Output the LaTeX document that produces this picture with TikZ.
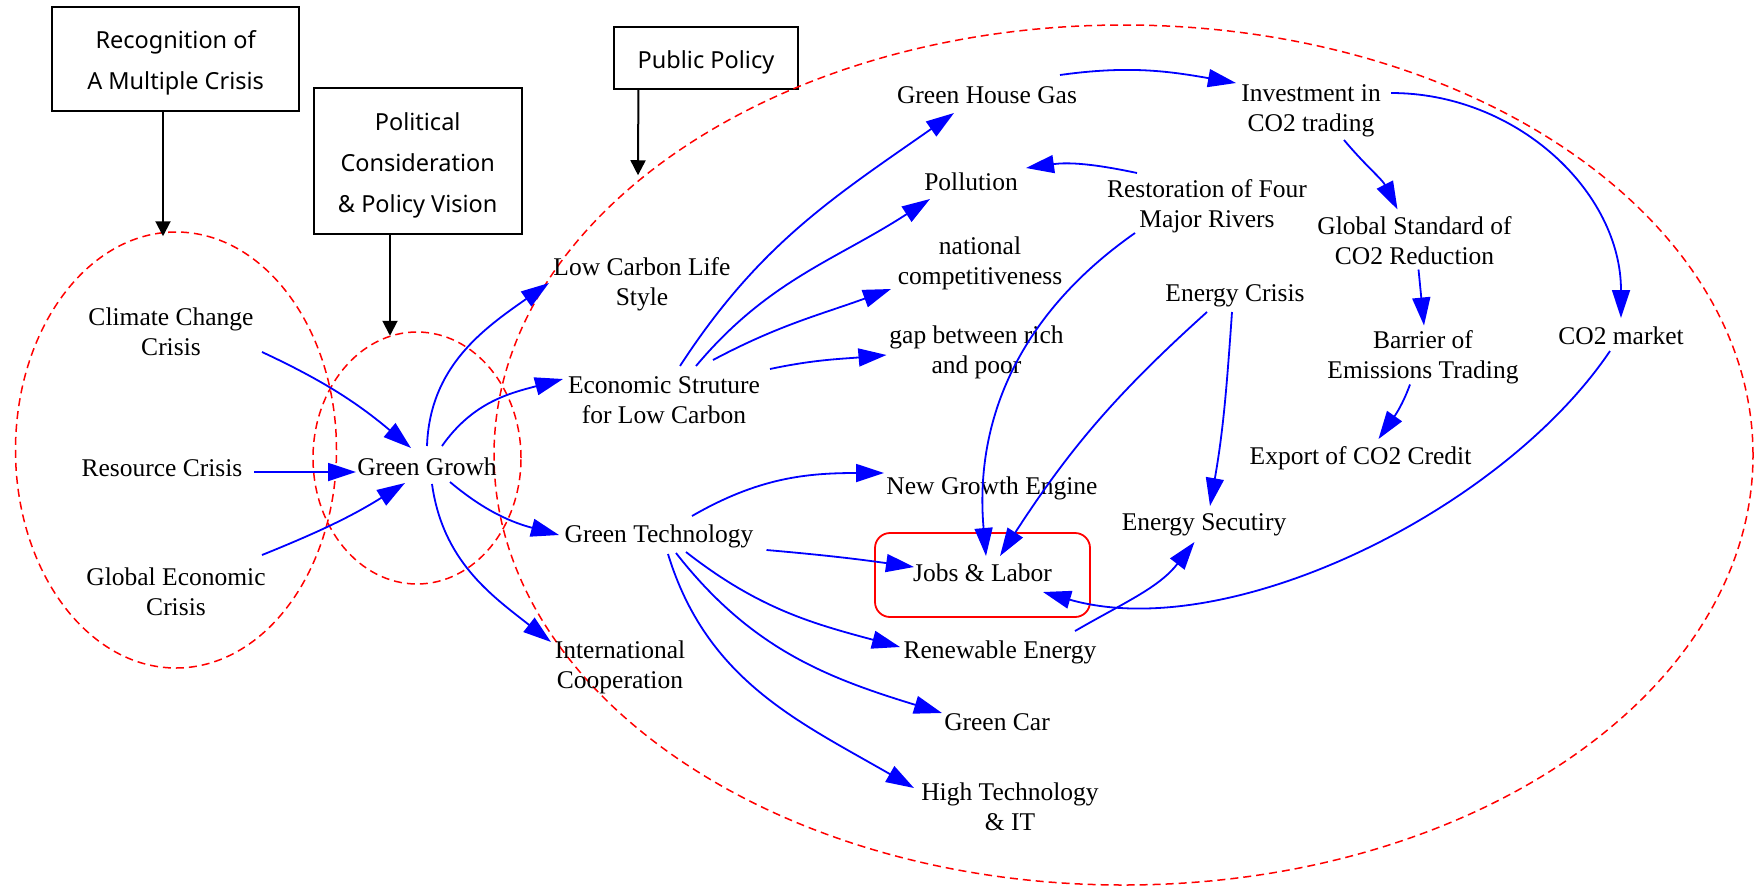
\documentclass[tikz,border=0pt]{standalone}
\usepackage{fontspec}
\setmainfont{Liberation Serif}
\newfontfamily\boxfont{Noto Sans}
\usetikzlibrary{arrows.meta,shapes.geometric,calc}
% one line of a label, set a little low inside its node
\newcommand\txtline[1]{\raisebox{-3pt}[\height][\depth]{#1}}
\newcommand\boxline[1]{\raisebox{-4pt}[\height][\depth]{#1}}

\begin{document}
\begin{tikzpicture}[x=1pt,y=1pt,
  lbl/.style={font=\fontsize{25.5}{30}\selectfont, align=center, inner sep=0pt},
  topbox/.style={draw=black, line width=1.8pt, font=\boxfont\fontsize{23.5}{41}\selectfont, align=center, inner sep=0pt},
  zone/.style={draw=red, line width=1.5pt, dash pattern=on 8pt off 5pt, ellipse, inner sep=0pt},
  focus/.style={draw=red, line width=1.8pt, rounded corners=15pt, font=\fontsize{25.5}{30}\selectfont, inner sep=0pt},
  link/.style={draw=blue, line width=1.8pt, -{Triangle[length=28pt,width=18pt]}},
  lead/.style={draw=black, line width=2pt, -{Triangle[length=15pt,width=15pt]}},
]
\useasboundingbox (0,0) rectangle (1755,-889);

% header boxes
\node[topbox, minimum width=246.5, minimum height=104] (recog) at (175.6,-58.7) {\boxline{Recognition of}\\\boxline{A Multiple Crisis}};
\node[topbox, minimum width=207.8, minimum height=146] (polit) at (417.7,-161.3) {\boxline{Political}\\\boxline{Consideration}\\\boxline{\& Policy Vision}};
\node[topbox, minimum width=184.4, minimum height=62.6] (public) at (706,-58) {\boxline{Public Policy}};

% dashed groupings
\node[zone, minimum width=321, minimum height=436] (crisis) at (176,-450) {};
\node[zone, minimum width=208, minimum height=252] (core) at (417,-458) {};
\node[zone, minimum width=1259, minimum height=860] (policy) at (1123.5,-455) {};

% header arrows into the groupings
\draw[lead] ($(recog.south)+(-12.6,0)$) -- ($(crisis.north)+(-13,-5)$);
\draw[lead] ($(polit.south)+(-27.7,0)$) -- ($(core.north)+(-27,-4.5)$);
\draw[lead] ($(public.south)+(-67.6,0)$) -- ($(policy.north)+(-485.5,-151)$);

% concepts
\node[lbl] (cc) at (171,-329) {\txtline{Climate Change}\\\txtline{Crisis}};
\node[lbl] (rc) at (162,-465) {\txtline{Resource Crisis}};
\node[lbl] (gec) at (176,-589) {\txtline{Global Economic}\\\txtline{Crisis}};
\node[lbl] (gg) at (427,-464) {\txtline{Green Growh}};
\node[lbl] (lcls) at (642,-281) {\txtline{Low Carbon Life}\\\txtline{Style}};
\node[lbl] (esl) at (664,-397) {\txtline{Economic Struture}\\\txtline{for Low Carbon}};
\node[lbl] (gt) at (659,-533) {\txtline{Green Technology}};
\node[lbl] (ic) at (620,-664) {\txtline{International}\\\txtline{Cooperation}};
\node[lbl] (ghg) at (987,-92) {\txtline{Green House Gas}};
\node[lbl] (pol) at (971,-179) {\txtline{Pollution}};
\node[lbl] (nc) at (980,-260) {\txtline{national}\\\txtline{competitiveness}};
\node[lbl] (gap) at (976.5,-349) {\txtline{gap between rich}\\\txtline{and poor}};
\node[lbl] (nge) at (992,-485) {\txtline{New Growth Engine}};
\node[focus, minimum width=215, minimum height=84] (jl) at (982.5,-575) {\raisebox{2pt}[\height][\depth]{Jobs \& Labor}};
\node[lbl] (re) at (1000,-649) {\txtline{Renewable Energy}};
\node[lbl] (car) at (997,-719) {\txtline{Green Car}};
\node[lbl] (ht) at (1010,-804) {\txtline{High Technology}\\\txtline{\& IT}};
\node[lbl] (inv) at (1311,-108) {\txtline{Investment in}\\\txtline{CO2 trading}};
\node[lbl] (rest) at (1207,-203) {\txtline{Restoration of Four}\\\txtline{Major Rivers}};
\node[lbl] (gsc) at (1414.5,-237.5) {\txtline{Global Standard of}\\\txtline{CO2 Reduction}};
\node[lbl] (ec) at (1235,-293) {\txtline{Energy Crisis}};
\node[lbl] (bar) at (1423,-354.5) {\txtline{Barrier of}\\\txtline{Emissions Trading}};
\node[lbl] (co2m) at (1621,-333) {\txtline{CO2 market}};
\node[lbl] (exp) at (1360.5,-455) {\txtline{Export of CO2 Credit}};
\node[lbl] (es) at (1204,-522) {\txtline{Energy Secutiry}};

% causal links
\draw[link] ($(cc)+(91,-23)$) to[out=-25,in=140] ($(gg)+(-16,16)$);
\draw[link] ($(rc)+(92,-7)$) to[out=0,in=180] ($(gg)+(-71,-8)$);
\draw[link] ($(gec)+(86,34)$) to[out=22,in=212] ($(gg)+(-22,-19)$);
\draw[link] ($(gg)+(0,18)$) to[out=88,in=215] ($(lcls)+(-93,-2)$);
\draw[link] ($(gg)+(15,18)$) to[out=55,in=195] ($(esl)+(-101,18)$);
\draw[link] ($(gg)+(23,-18)$) to[out=-40,in=165] ($(gt)+(-100,-2)$);
\draw[link] ($(gg)+(5,-20)$) to[out=-82,in=142] ($(ic)+(-69,22)$);
\draw[link] ($(esl)+(16,31)$) to[out=57,in=215] ($(ghg)+(-33,-21)$);
\draw[link] ($(esl)+(32,31)$) to[out=50,in=213] ($(pol)+(-41,-20)$);
\draw[link] ($(esl)+(49,37)$) to[out=28,in=200] ($(nc)+(-89,-29)$);
\draw[link] ($(esl)+(106,28)$) to[out=12,in=185] ($(gap)+(-90,-6)$);
\draw[link] ($(rest)+(-70,30)$) to[out=168,in=8] ($(pol)+(55,11)$);
\draw[link] ($(rest)+(-72,-30)$) to[out=215,in=95] ($(jl)+(3.5,19)$);
\draw[link] ($(ec)+(-28,-19)$) to[out=222,in=57] ($(jl)+(17.5,19)$);
\draw[link] ($(ec)+(-3,-19)$) to[out=266,in=80] ($(es)+(6,16)$);
\draw[link] ($(ghg)+(73,17)$) to[out=8,in=170] ($(inv)+(-75,25)$);
\draw[link] ($(inv)+(33,-32)$) to[out=-50,in=117] ($(gsc)+(-17,28)$);
\draw[link] ($(inv)+(80,15)$) to[out=0,in=90] ($(co2m)+(0,15)$);
\draw[link] ($(gsc)+(4,-32)$) -- ($(bar)+(1,29)$);
\draw[link] ($(bar)+(-13,-30)$) to[out=250,in=55] ($(exp)+(18,16)$);
\draw[link] ($(co2m)+(-11,-18)$) to[out=236,in=-16,looseness=0.8] ($(jl)+(60.5,-17)$);
\draw[link] ($(re)+(75,18)$) to[out=30,in=232] ($(es)+(-9.5,-20)$);
\draw[link] ($(gt)+(33,17)$) to[out=30,in=180] ($(nge)+(-108,12)$);
\draw[link] ($(gt)+(107.5,-17)$) to[out=-5,in=172] ($(jl)+(-68.5,8)$);
\draw[link] ($(gt)+(27,-19)$) to[out=-38,in=165] ($(re)+(-100,2)$);
\draw[link] ($(gt)+(17,-20)$) to[out=-52,in=163] ($(car)+(-55,6)$);
\draw[link] ($(gt)+(9,-21)$) to[out=-73,in=150] ($(ht)+(-96,16)$);
\end{tikzpicture}
\end{document}
